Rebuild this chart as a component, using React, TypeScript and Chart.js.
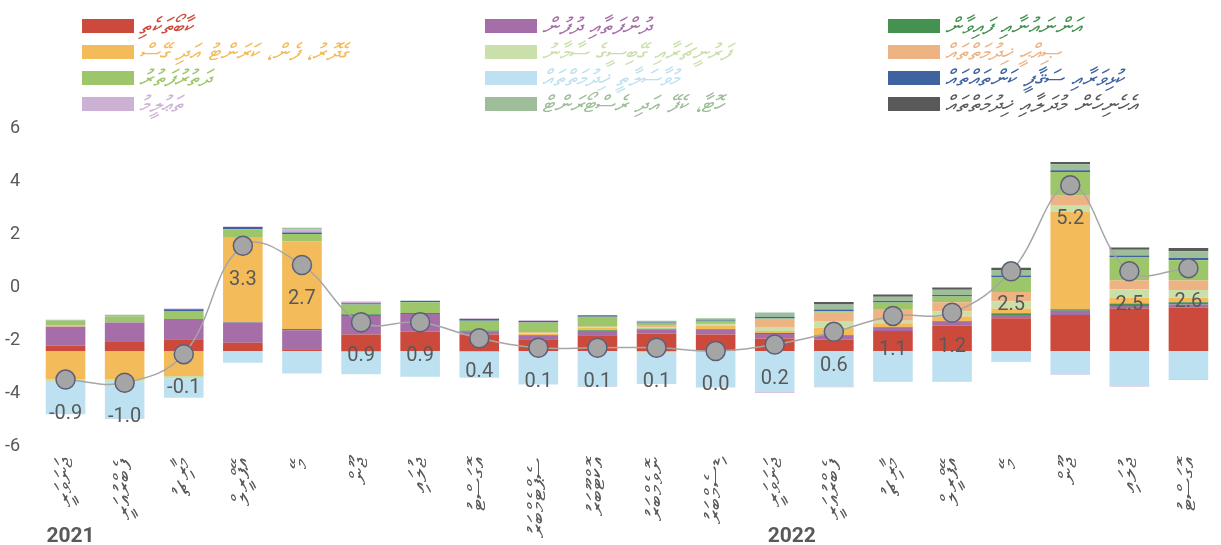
import React, { useEffect, useRef } from "react";
import { Chart, registerables } from "chart.js";

Chart.register(...registerables);

// ---------- data ----------
const months = [
  "ޖަނަވަރީ", "ފެބްރުއަރީ", "މާރިޗު", "އޭޕްރީލް", "މޭ", "ޖޫން", "ޖުލައި", "އޮގަސްޓު",
  "ސެޕްޓެމްބަރު", "އޮކްޓޫބަރު", "ނޮވެމްބަރު", "ޑިސެމްބަރު",
  "ޖަނަވަރީ", "ފެބްރުއަރީ", "މާރިޗު", "އޭޕްރީލް", "މޭ", "ޖޫން", "ޖުލައި", "އޮގަސްޓު",
];
const years = ["2021", "2022"];
const yearStartIndex = [0, 12];

const seriesNames = [
  "ކާބޯތަކެތި",
  "ދުންފަތާއި ދުފުން",
  "އަންނައުނާއި ފައިވާން",
  "ގެދޮރު، ފެން، ކަރަންޓު އަދި ގޭސް",
  "ފަރުނީޗަރާއި ގޭބިސީގެ ސާމާނު",
  "ޞިއްޙީ ޚިދުމަތްތައް",
  "ދަތުރުފަތުރު",
  "މުވާސަލާތީ ޚިދުމަތްތައް",
  "ކުޅިވަރާއި ސަޤާފީ ކަންތައްތައް",
  "ތަޢުލީމު",
  "ހޮޓާ، ކެފޭ އަދި ރެސްޓޯރަންޓް",
  "އެހެނިހެން މުދަލާއި ޚިދުމަތްތައް",
];
const seriesColors = [
  "#CC4A3B", "#A56EA9", "#45914F", "#F3BB59", "#CADFAA", "#EEB383",
  "#9DC66B", "#BEE1F1", "#3E63A0", "#CDB1D5", "#9EBE99", "#595959",
];

const food = [0.16, 0.28, 0.37, 0.26, 0.05, 0.52, 0.6, 0.52, 0.37, 0.49, 0.55, 0.52, 0.39, 0.35, 0.63, 0.79, 1.03, 1.13, 1.33, 1.36];
const tobacco = [0.6, 0.61, 0.63, 0.63, 0.6, 0.58, 0.56, 0.08, 0.1, 0.14, 0.13, 0.14, 0.14, 0.13, 0.1, 0.13, 0.1, 0.13, 0.08, 0.1];
const clothing = [0, 0, 0, 0.02, 0.04, 0.05, 0.03, 0.04, 0.02, 0.02, 0.02, 0.02, 0.03, 0.02, 0.02, 0.02, 0.05, 0.05, 0.08, 0.07];
const housing = [-0.89, -0.89, -0.79, 2.67, 2.75, -0.03, -0.02, -0.03, 0.05, 0.07, -0.04, 0.12, 0.07, 0.23, 0.12, 0.14, 0.15, 3.06, 0.18, 0.14];
const furnishing = [-0.05, -0.08, -0.07, 0, 0, 0, 0, 0, 0.02, 0.02, 0.04, 0.05, 0.12, 0.21, 0.08, 0.16, 0.22, 0.21, 0.26, 0.24];
const health = [0.05, 0, 0, 0, 0, 0, 0, 0, 0.02, 0.02, 0.05, 0.03, 0.23, 0.26, 0.37, 0.29, 0.3, 0.29, 0.29, 0.3];
const transport = [0.14, 0.18, 0.24, 0.24, 0.23, 0.31, 0.34, 0.31, 0.31, 0.31, 0.07, 0.07, 0.04, 0.05, 0.2, 0.18, 0.47, 0.75, 0.73, 0.64];
const communication = [-1.05, -1.17, -0.61, -0.37, -0.71, -0.7, -0.79, -0.81, -1.05, -1.12, -1.0, -1.15, -1.29, -1.12, -0.94, -0.94, -0.33, -0.73, -1.1, -0.89];
const recreation = [0, 0, 0.07, 0.07, 0.05, 0.04, 0.05, 0.05, 0.05, 0.05, 0.03, 0.03, 0.05, 0.05, 0.05, 0.05, 0.05, 0.05, 0.05, 0.07];
const education = [0, 0, 0.02, 0.02, 0.1, 0.05, 0, 0.03, 0.02, -0.01, 0, 0, -0.02, -0.02, -0.02, -0.02, -0.02, -0.02, -0.02, -0.02];
const restaurants = [0.03, 0.07, 0, 0, 0.05, 0, 0, 0, 0, 0, 0.06, 0.05, 0.14, 0.16, 0.13, 0.16, 0.17, 0.19, 0.18, 0.21];
const misc = [0, 0, 0, 0, 0, 0, 0, 0, 0, 0, 0, 0, 0, 0.08, 0.07, 0.07, 0.07, 0.07, 0.07, 0.1];

const headline = [-0.9, -1.0, -0.1, 3.3, 2.7, 0.9, 0.9, 0.4, 0.1, 0.1, 0.1, 0.0, 0.2, 0.6, 1.1, 1.2, 2.5, 5.2, 2.5, 2.6];

const seriesValues = [food, tobacco, clothing, housing, furnishing, health, transport, communication, recreation, education, restaurants, misc];

const leftAxisMin = -6;
const leftAxisMax = 6;
const leftAxisStep = 2;
const valueAxisMin = -3;
const valueAxisMax = 7;

// ---------- component ----------
const THAANA_FONT = "'DejaVu Sans', 'Noto Sans', sans-serif";
const NUM_FONT = "Roboto, 'Liberation Sans', sans-serif";

export default function App() {
  const canvasRef = useRef<HTMLCanvasElement | null>(null);

  useEffect(() => {
    const canvas = canvasRef.current;
    if (!canvas) return;

    const overlay = {
      id: "overlayText",
      afterDatasetsDraw(chart: any) {
        const ctx = chart.ctx;
        const lineIdx = chart.data.datasets.findIndex((d: any) => d.type === "line");
        const meta = chart.getDatasetMeta(lineIdx);
        ctx.save();
        ctx.font = `20px ${NUM_FONT}`;
        ctx.fillStyle = "#595959";
        ctx.textAlign = "center";
        ctx.textBaseline = "middle";
        meta.data.forEach((pt: any, i: number) => {
          ctx.fillText(headline[i].toFixed(1), pt.x, pt.y + 34);
        });
        const xs = chart.scales.x;
        ctx.font = `bold 21px ${NUM_FONT}`;
        const offs = [5, 17];
        years.forEach((yr, k) => {
          const px = xs.getPixelForValue(yearStartIndex[k]) + offs[k];
          ctx.fillText(yr, px, 537);
        });
        ctx.restore();
      },
    };

    const barSets = seriesValues.map((vals, i) => ({
      type: "bar" as const,
      label: seriesNames[i],
      data: vals,
      backgroundColor: seriesColors[i],
      borderWidth: 0,
      yAxisID: "y2",
      stack: "contrib",
      order: 1,
      barPercentage: 0.67,
      categoryPercentage: 1,
    }));

    const chart = new Chart(canvas, {
      type: "bar",
      data: {
        labels: months,
        datasets: [
          ...barSets,
          {
            type: "line" as const,
            label: "total",
            data: headline,
            yAxisID: "y2",
            stack: "total",
            order: 0,
            borderColor: "#A6A6A6",
            borderWidth: 1.5,
            tension: 0.4,
            pointRadius: 9.5,
            pointBackgroundColor: "#A5A5A5",
            pointBorderColor: "#5B5F78",
            pointBorderWidth: 1.5,
          } as any,
        ],
      },
      options: {
        responsive: false,
        animation: false,
        layout: { padding: { top: 128, left: 0, right: 0, bottom: 0 } },
        plugins: {
          legend: { display: false },
          tooltip: { enabled: false },
        },
        scales: {
          x: {
            stacked: true,
            grid: { display: false, drawTicks: false },
            border: { display: false },
            ticks: {
              autoSkip: false,
              minRotation: 90,
              maxRotation: 90,
              padding: 11,
              color: "#595959",
              font: { size: 24, family: THAANA_FONT },
            },
            afterFit(scale: any) {
              scale.height = 98.5;
            },
          },
          y: {
            position: "left",
            min: leftAxisMin,
            max: leftAxisMax,
            grid: { display: false, drawTicks: false },
            border: { display: false },
            ticks: {
              stepSize: leftAxisStep,
              padding: 16,
              color: "#595959",
              font: { size: 18, family: NUM_FONT },
            },
            afterFit(scale: any) {
              scale.width = 36;
            },
          },
          y2: {
            position: "left",
            display: false,
            stacked: true,
            min: valueAxisMin,
            max: valueAxisMax,
          },
        },
      } as any,
      plugins: [overlay],
    });

    return () => chart.destroy();
  }, []);

  const colLeft = [82, 485, 888];

  return (
    <div
      style={{
        position: "fixed",
        left: 0,
        top: 0,
        width: 1221,
        height: 545,
        overflow: "hidden",
        background: "#fff",
      }}
    >
      <canvas ref={canvasRef} width={1229} height={545} style={{ position: "absolute", left: 0, top: 0 }} />
      {seriesNames.map((name, i) => {
        const col = i % 3;
        const row = Math.floor(i / 3);
        return (
          <div
            key={i}
            style={{
              position: "absolute",
              left: colLeft[col],
              top: 19 + row * 26,
              height: 14,
              display: "flex",
              alignItems: "center",
              whiteSpace: "nowrap",
            }}
          >
            <span style={{ display: "inline-block", width: 52, height: 14, background: seriesColors[i] }} />
            <span
              style={{
                marginLeft: 5,
                color: seriesColors[i],
                fontFamily: THAANA_FONT,
                fontSize: 23,
                lineHeight: "14px",
                fontStyle: "italic",
              }}
            >
              {name}
            </span>
          </div>
        );
      })}
    </div>
  );
}
